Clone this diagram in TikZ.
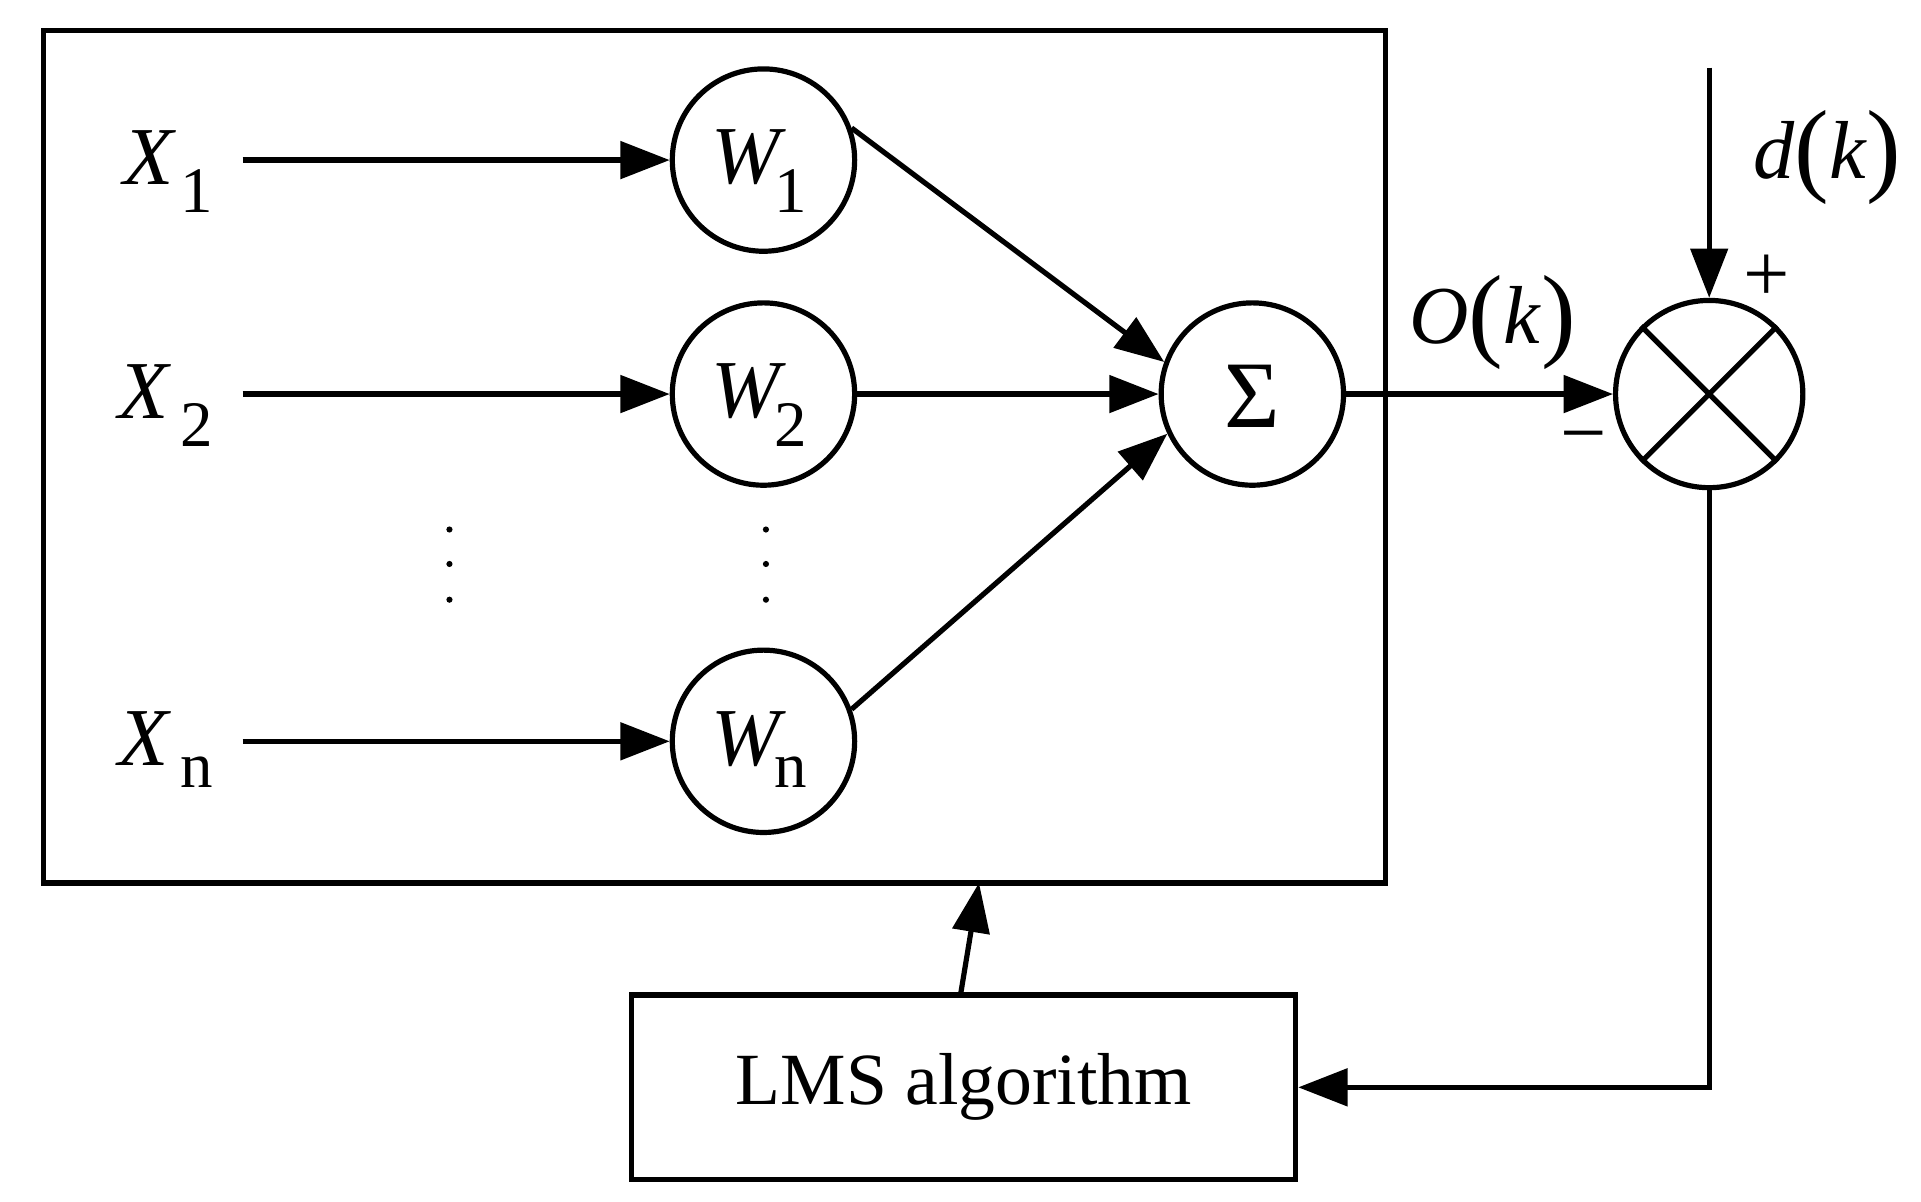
\documentclass[tikz,border=0pt]{standalone}
\usepackage{fontspec}
\setmainfont{Liberation Serif}
\usetikzlibrary{arrows.meta}
\begin{document}
\begin{tikzpicture}[x=0.01cm,y=-0.01cm,line width=1.2pt,
  arr/.style={-{Triangle[length=0.4cm,width=0.3cm]}},
  circ/.style={circle,draw,minimum size=1.48cm,inner sep=0pt},
  lab/.style={font=\fontsize{19}{22}\selectfont},
  sub/.style={font=\fontsize{15}{18}\selectfont}]
\useasboundingbox (0,0) rectangle (1560,976);
\draw (35,25) rectangle (1125,717);
\node[circ] (w1) at (620,130) {};
\node[circ] (w2) at (620,320) {};
\node[circ] (wn) at (620,602) {};
\node[lab] at (608,128) {\textit{W}};\node[sub] at (642,155) {1};
\node[lab] at (608,318) {\textit{W}};\node[sub] at (642,345) {2};
\node[lab] at (608,600) {\textit{W}};\node[sub] at (642,627) {n};
\node[lab] (x1) at (122,128) {\textit{X}};\node[sub] at (160,155) {1};
\node[lab] (x2) at (118,318) {\textit{X}};\node[sub] at (160,345) {2};
\node[lab] (xn) at (118,600) {\textit{X}};\node[sub] at (160,627) {n};
\coordinate (s1) at (197,130);\coordinate (s2) at (197,320);\coordinate (sn) at (197,602);
\draw[arr] (s1) -- (w1.west);
\draw[arr] (s2) -- (w2.west);
\draw[arr] (sn) -- (wn.west);
\node[circ] (sum) at (1017,320) {};
\node[font=\fontsize{22}{26}\selectfont] at (1017,322) {Σ};
\draw[arr] (w1.20) -- (sum.160);
\draw[arr] (w2.east) -- (sum.west);
\draw[arr] (wn.20) -- (sum.205);
\foreach \x in {365,622} \foreach \y in {430,458,487} \fill (\x,\y) circle (2.5);
\node[circ,minimum size=1.52cm] (c) at (1388,320) {};
\draw (c.45) -- (c.225) (c.135) -- (c.315);
\draw[arr] (sum.east) -- (c.west);
\node[lab] at (1212,262) {\textit{O}\raisebox{-0.1ex}{\fontsize{24}{26}\selectfont(}\textit{k}\raisebox{-0.1ex}{\fontsize{24}{26}\selectfont)}};
\node[lab] at (1286,362) {−};
\node[lab] at (1435,226) {+};
\coordinate (dtop) at (1388,55);
\draw[arr] (dtop) -- (c.north);
\node[lab] at (1484,128) {\textit{d}\raisebox{-0.1ex}{\fontsize{24}{26}\selectfont(}\textit{k}\raisebox{-0.1ex}{\fontsize{24}{26}\selectfont)}};
\node[draw,minimum width=5.39cm,minimum height=1.5cm,font=\fontsize{17}{20}\selectfont] (lms) at (782.5,883) {LMS algorithm};
\draw[arr] (c.south) |- (lms.east);
\coordinate (btop) at (795,717);
\draw[arr] (780,808) -- (btop);
\end{tikzpicture}
\end{document}
